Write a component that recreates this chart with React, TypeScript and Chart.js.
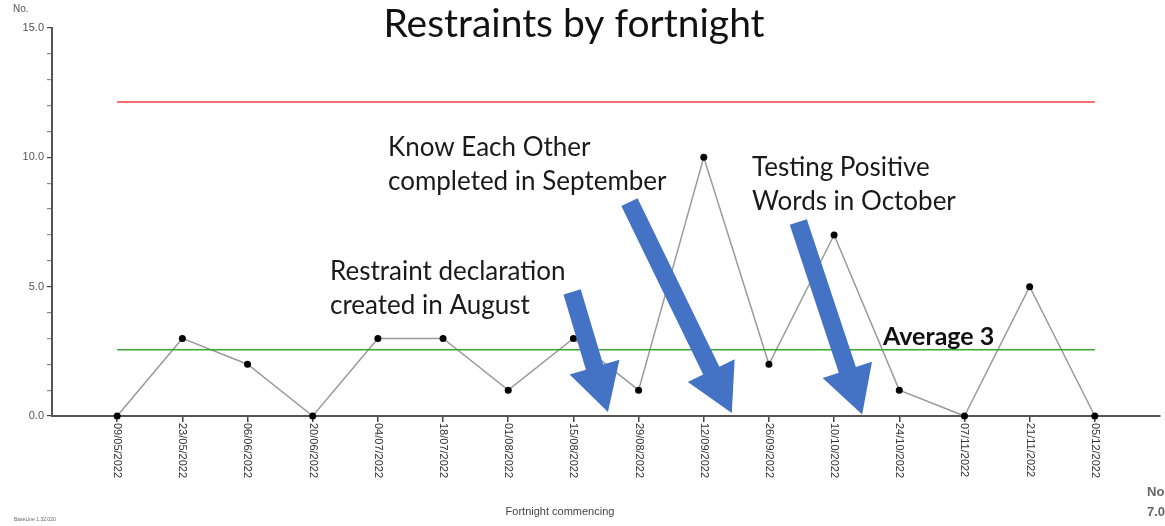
import React, { useEffect, useRef } from "react";
import { Chart, registerables } from "chart.js";

Chart.register(...registerables);

const categories: string[] = [
  "09/05/2022", "23/05/2022", "06/06/2022", "20/06/2022", "04/07/2022", "18/07/2022",
  "01/08/2022", "15/08/2022", "29/08/2022", "12/09/2022", "26/09/2022", "10/10/2022",
  "24/10/2022", "07/11/2022", "21/11/2022", "05/12/2022",
];
const restraints: number[] = [0, 3, 2, 0, 3, 3, 1, 3, 1, 10, 2, 7, 1, 0, 5, 0];
const meanValue: number[] = [2.56, 2.56];
const upperLimit: number[] = [12.14, 12.14];
const yTickValues: number[] = [0, 5, 10, 15];

// Annotation arrows in data coordinates: [tailX, tailY, tipX, tipY]
const arrows: number[][] = [
  [6.98, 4.8, 7.53, 0.15],
  [7.86, 8.27, 9.43, 0.12],
  [10.45, 7.5, 11.43, 0.06],
];
// Annotation texts: lines, anchor in data coords [x, y]
const notes: { lines: string[]; at: number[] }[] = [
  { lines: ["Restraint declaration", "created in August"], at: [3.265, 5.24] },
  { lines: ["Know Each Other", "completed in September"], at: [4.155, 10.05] },
  { lines: ["Testing Positive", "Words in October"], at: [9.74, 9.28] },
];

const overlayPlugin = {
  id: "overlay",
  afterDraw(chart: any) {
    const ctx = chart.ctx;
    const xs = chart.scales.x;
    const ys = chart.scales.y;
    ctx.save();

    // title
    ctx.fillStyle = "#111";
    ctx.font = "39px Lato";
    ctx.textAlign = "center";
    ctx.textBaseline = "alphabetic";
    ctx.fillText("Restraints by fortnight", 574, 37);

    // axis small texts
    ctx.fillStyle = "#555";
    ctx.font = "10px 'Liberation Sans', Arial";
    ctx.textAlign = "left";
    ctx.fillText("No.", 13, 12);
    ctx.font = "11px 'Liberation Sans', Arial";
    ctx.textAlign = "center";
    ctx.fillStyle = "#444";
    ctx.fillText("Fortnight commencing", 560, 515);
    ctx.font = "5px 'Liberation Sans', Arial";
    ctx.textAlign = "left";
    ctx.fillStyle = "#666";
    ctx.fillText("BaseLine 1.32.020", 14, 521);
    ctx.font = "bold 13px 'Liberation Sans', Arial";
    ctx.fillStyle = "#666";
    ctx.fillText("No", 1147, 496);
    ctx.fillText("7.0", 1147, 516);

    // x tick labels rotated clockwise
    ctx.font = "11px 'Liberation Sans', Arial";
    ctx.fillStyle = "#333";
    categories.forEach((c, i) => {
      const px = xs.getPixelForValue(i);
      ctx.save();
      ctx.translate(px, 423);
      ctx.rotate(Math.PI / 2);
      ctx.textAlign = "left";
      ctx.textBaseline = "middle";
      ctx.fillText(c, 0, 0);
      ctx.restore();
    });

    // notes
    ctx.fillStyle = "#1a1a1a";
    ctx.font = "26px Lato";
    ctx.textAlign = "left";
    ctx.textBaseline = "alphabetic";
    notes.forEach((n) => {
      const px = xs.getPixelForValue(n.at[0]);
      const py = ys.getPixelForValue(n.at[1]);
      n.lines.forEach((l, k) => ctx.fillText(l, px, py + k * 34));
    });

    ctx.font = "bold 25px Lato";
    ctx.fillStyle = "#111";
    ctx.fillText("Average 3", xs.getPixelForValue(11.75), ys.getPixelForValue(2.56) - 5);

    // arrows
    ctx.fillStyle = "#4472C4";
    const shaft = 18, headLen = 47, headW = 52;
    arrows.forEach((a) => {
      const tx = xs.getPixelForValue(a[0]);
      const ty = ys.getPixelForValue(a[1]);
      const px = xs.getPixelForValue(a[2]);
      const py = ys.getPixelForValue(a[3]);
      const dx = px - tx, dy = py - ty;
      const len = Math.hypot(dx, dy);
      const ux = dx / len, uy = dy / len;
      const nx = -uy, ny = ux;
      const bx = px - ux * headLen, by = py - uy * headLen;
      ctx.beginPath();
      ctx.moveTo(tx + nx * shaft / 2, ty + ny * shaft / 2);
      ctx.lineTo(bx + nx * shaft / 2, by + ny * shaft / 2);
      ctx.lineTo(bx + nx * headW / 2, by + ny * headW / 2);
      ctx.lineTo(px, py);
      ctx.lineTo(bx - nx * headW / 2, by - ny * headW / 2);
      ctx.lineTo(bx - nx * shaft / 2, by - ny * shaft / 2);
      ctx.lineTo(tx - nx * shaft / 2, ty - ny * shaft / 2);
      ctx.closePath();
      ctx.fill();
    });

    ctx.restore();
  },
};

export default function App() {
  const ref = useRef<HTMLCanvasElement | null>(null);
  useEffect(() => {
    document.body.style.margin = "0";
    const last = categories.length - 1;
    const chart = new Chart(ref.current as HTMLCanvasElement, {
      type: "line",
      data: {
        datasets: [
          {
            label: "Upper limit",
            data: [{ x: 0, y: upperLimit[0] }, { x: last, y: upperLimit[1] }],
            borderColor: "#f04040",
            borderWidth: 1.5,
            pointRadius: 0,
            clip: false as any,
          },
          {
            label: "Mean",
            data: [{ x: 0, y: meanValue[0] }, { x: last, y: meanValue[1] }],
            borderColor: "#3aa835",
            borderWidth: 1.5,
            pointRadius: 0,
            clip: false as any,
          },
          {
            label: "Restraints",
            data: restraints.map((v, i) => ({ x: i, y: v })),
            borderColor: "#9a9a9a",
            borderWidth: 1.5,
            pointRadius: 3.5,
            pointBackgroundColor: "#000",
            pointBorderColor: "#000",
            pointBorderWidth: 0,
            clip: false as any,
          },
        ],
      },
      options: {
        animation: false,
        responsive: true,
        maintainAspectRatio: false,
        layout: { padding: { top: 28, left: 8, right: 5, bottom: 0 } },
        plugins: { legend: { display: false }, tooltip: { enabled: false }, title: { display: false } },
        scales: {
          x: {
            type: "linear",
            min: -1,
            max: categories.length,
            afterBuildTicks: (scale: any) => {
              scale.ticks = categories.map((_, i) => ({ value: i }));
            },
            afterFit: (scale: any) => {
              scale.height = 110;
            },
            ticks: { display: false },
            grid: { drawOnChartArea: false, drawTicks: true, tickLength: 6, color: "#444", lineWidth: 1.5 },
            border: { display: true, color: "#555", width: 2 },
          },
          y: {
            type: "linear",
            min: 0,
            max: 15,
            afterBuildTicks: (scale: any) => {
              const t: any[] = [];
              for (let v = 0; v <= 15; v++) t.push({ value: v });
              scale.ticks = t;
            },
            afterFit: (scale: any) => {
              scale.width = 44;
            },
            ticks: {
              autoSkip: false,
              padding: 3,
              color: "#555",
              font: { family: "'Liberation Sans', Arial", size: 11 },
              callback: (v: any) => (yTickValues.includes(Number(v)) ? Number(v).toFixed(1) : ""),
            },
            grid: {
              drawOnChartArea: false,
              drawTicks: true,
              tickLength: 5,
              color: (c: any) => (c.tick && yTickValues.includes(c.tick.value) ? "#444" : "#888"),
              lineWidth: 1.2,
            },
            border: { display: true, color: "#555", width: 2 },
          },
        },
      },
      plugins: [overlayPlugin],
    } as any);
    return () => chart.destroy();
  }, []);
  return (
    <div style={{ position: "relative", width: "1165px", height: "526px" }}>
      <canvas ref={ref} />
    </div>
  );
}
